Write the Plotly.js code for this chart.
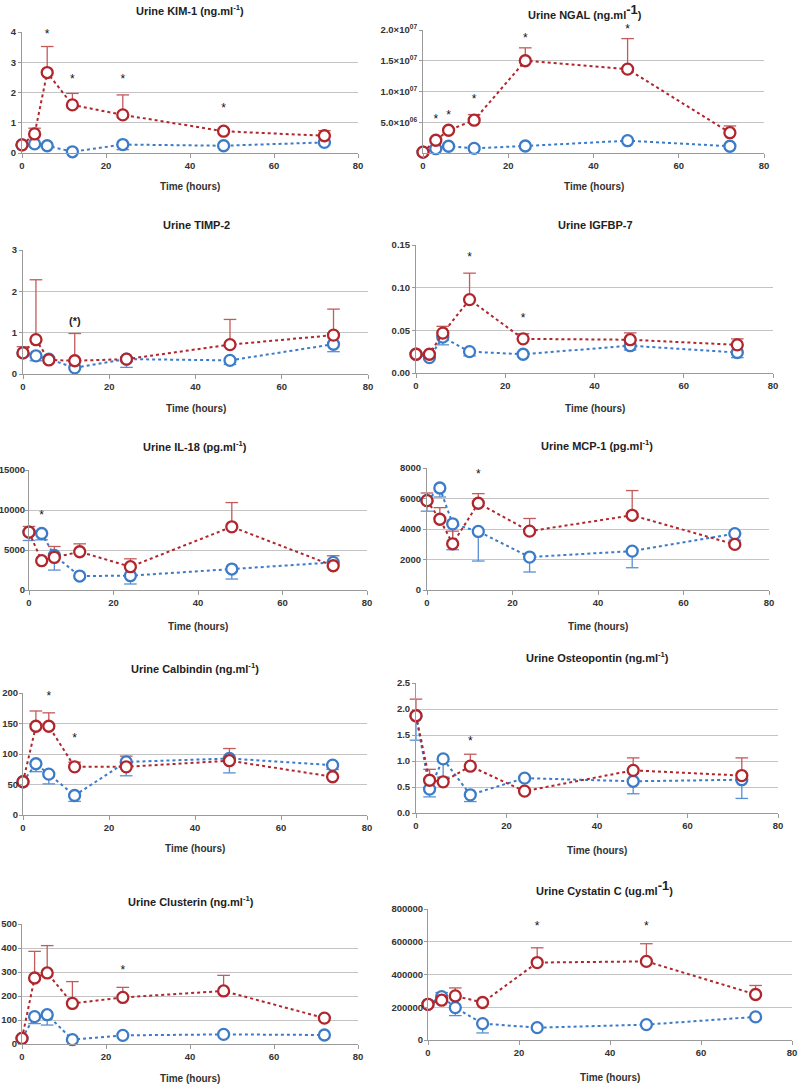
<!DOCTYPE html>
<html>
<head>
<meta charset="utf-8">
<script src="https://cdn.plot.ly/plotly-3.0.1.min.js"></script>
<style>
  body { margin: 0; background: #fff; }
  #chart { width: 800px; height: 1084px; }
</style>
</head>
<body>
<div id="chart"></div>
<script>
// time points (hours) shared by every panel
const hours = [0, 3, 6, 12, 24, 48, 72];

// error values: positive = bar drawn up, negative = bar drawn down, null = none
// Urine KIM-1
const kimRed = [0.27, 0.63, 2.66, 1.59, 1.26, 0.72, 0.57];
const kimRedErr = [null, 0.19, 0.86, 0.38, 0.66, null, 0.17];
const kimBlue = [0.27, 0.30, 0.24, 0.04, 0.28, 0.24, 0.35];
const kimBlueErr = [null, null, null, null, -0.17, null, null];
const kimStarT = [6, 12, 24, 48];
const kimStarY = [3.9, 2.4, 2.4, 1.44];

// Urine NGAL
const ngalRed = [0.15e6, 2.07e6, 3.7e6, 5.33e6, 15.0e6, 13.64e6, 3.3e6];
const ngalRedErr = [null, null, null, 0.92e6, 2.1e6, 4.96e6, 1.1e6];
const ngalBlue = [0.15e6, 0.7e6, 1.1e6, 0.76e6, 1.14e6, 2.0e6, 1.1e6];
const ngalBlueErr = [null, null, null, null, null, null, null];
const ngalStarT = [3, 6, 12, 24, 48];
const ngalStarY = [5.4e6, 6.0e6, 8.6e6, 18.5e6, 20.0e6];
const ngalTicks = [5e6, 1e7, 1.5e7, 2e7];
const ngalTickText = ["5.0×10<sup>06</sup>", "1.0×10<sup>07</sup>", "1.5×10<sup>07</sup>", "2.0×10<sup>07</sup>"];

// Urine TIMP-2
const timpRed = [0.51, 0.83, 0.34, 0.32, 0.36, 0.71, 0.94];
const timpRedErr = [0.15, 1.45, null, 0.66, null, 0.61, 0.63];
const timpBlue = [0.51, 0.44, 0.36, 0.15, 0.36, 0.33, 0.72];
const timpBlueErr = [null, -0.12, null, null, -0.20, -0.10, -0.18];

// Urine IGFBP-7
const igfRed = [0.022, 0.022, 0.0467, 0.086, 0.040, 0.039, 0.033];
const igfRedErr = [null, null, 0.008, 0.031, 0.006, 0.008, 0.007];
const igfBlue = [0.022, 0.018, 0.042, 0.025, 0.022, 0.032, 0.024];
const igfBlueErr = [null, null, -0.009, -0.005, null, -0.005, -0.006];
const igfStarT = [12, 24];
const igfStarY = [0.135, 0.063];

// Urine IL-18
const il18Red = [7230, 3660, 4070, 4780, 2910, 7900, 3030];
const il18RedErr = [710, null, 1370, 990, 990, 3030, 1250];
const il18Blue = [7230, 7060, 4320, 1745, 1790, 2620, 3450];
const il18BlueErr = [-1040, -790, -1830, null, -1040, -1250, null];
const il18StarT = [3];
const il18StarY = [9200];

// Urine MCP-1
const mcpRed = [5860, 4640, 3030, 5690, 3860, 4900, 2990];
const mcpRedErr = [500, 760, 830, 630, 830, 1620, null];
const mcpBlue = [5860, 6690, 4340, 3840, 2160, 2550, 3700];
const mcpBlueErr = [-690, -590, -1700, -1940, -980, -1090, -430];
const mcpStarT = [12];
const mcpStarY = [7550];

// Urine Calbindin
const calRed = [54.5, 145.5, 145.5, 79, 79, 89, 62.7];
const calRedErr = [null, 25, 22, 7.6, 17.5, 20, null];
const calBlue = [54.5, 84, 67, 32, 87, 92.6, 81.7];
const calBlueErr = [null, -13, -16, -9.7, -22.7, -23.6, -7];
const calStarT = [6, 12];
const calStarY = [193, 125];

// Urine Osteopontin
const ostRed = [1.87, 0.63, 0.60, 0.90, 0.42, 0.82, 0.72];
const ostRedErr = [0.32, 0.21, null, 0.23, null, 0.24, 0.34];
const ostBlue = [1.87, 0.46, 1.04, 0.35, 0.67, 0.61, 0.64];
const ostBlueErr = [-0.47, -0.15, -0.35, -0.13, null, -0.24, -0.36];
const ostStarT = [12];
const ostStarY = [1.37];

// Urine Clusterin
const cluRed = [23.6, 275, 296, 169, 194, 221, 108];
const cluRedErr = [null, 111, 114, 91, 42, 65, null];
const cluBlue = [23.6, 114, 122, 18, 36, 40, 37.5];
const cluBlueErr = [null, -29, -43, null, null, null, null];
const cluStarT = [24];
const cluStarY = [303];

// Urine Cystatin C
const cysRed = [218000, 243000, 269000, 229000, 473000, 480000, 278000];
const cysRedErr = [null, null, 49000, null, 90000, 108000, 55000];
const cysBlue = [218000, 265000, 198000, 100000, 75500, 94000, 141000];
const cysBlueErr = [null, 25000, -49000, -57000, null, null, null];
const cysStarT = [24, 48];
const cysStarY = [688000, 688000];

const W = 800, H = 1084;
const RED = "#b0262c", RED_ERR = "#c45a5a";
const BLUE = "#3b7bc8", BLUE_ERR = "#5a8fd2";
const FONT = "Liberation Sans, Arial, sans-serif";

const traces = [];
const layout = {
  width: W, height: H,
  margin: {l: 0, r: 0, t: 0, b: 0},
  paper_bgcolor: "#fff", plot_bgcolor: "#fff",
  showlegend: false,
  annotations: []
};

function errTrace(ax, vals, errs, color) {
  const xs = [], ys = [], cx = [], cy = [];
  for (let i = 0; i < hours.length; i++) {
    if (errs[i] === null) continue;
    xs.push(hours[i], hours[i], null);
    ys.push(vals[i], vals[i] + errs[i], null);
    cx.push(hours[i]);
    cy.push(vals[i] + errs[i]);
  }
  if (!cx.length) return;
  traces.push({x: xs, y: ys, xaxis: ax.x, yaxis: ax.y, mode: "lines",
    line: {color: color, width: 1.3}, hoverinfo: "skip", cliponaxis: false});
  traces.push({x: cx, y: cy, xaxis: ax.x, yaxis: ax.y, mode: "markers",
    marker: {symbol: "line-ew-open", size: 9, color: color, line: {color: color, width: 1.3}},
    hoverinfo: "skip", cliponaxis: false});
}

function seriesTrace(ax, vals, color) {
  traces.push({x: hours, y: vals, xaxis: ax.x, yaxis: ax.y, mode: "lines+markers",
    line: {color: color, width: 2, dash: "dot"},
    marker: {symbol: "circle", size: 11, color: "#fff", line: {color: color, width: 2.3}},
    cliponaxis: false});
}

// box = [left px, right px, top px (ymax), bottom px (0)]
function panel(n, title, box, yMax, yDtick, red, redErr, blue, blueErr, starT, starY, opts) {
  opts = opts || {};
  const ax = {x: n === 1 ? "x" : "x" + n, y: n === 1 ? "y" : "y" + n};
  const xName = n === 1 ? "xaxis" : "xaxis" + n;
  const yName = n === 1 ? "yaxis" : "yaxis" + n;
  const tickfont = {family: FONT, size: 9.5, color: "#333", weight: "bold"};

  layout[xName] = {
    domain: [box[0] / W, box[1] / W], anchor: ax.y,
    range: [0, 80], dtick: 20, tick0: 0,
    showgrid: false, zeroline: false, showline: true, linecolor: "#9a9a9a", linewidth: 1,
    ticks: "outside", ticklen: 4, tickcolor: "#9a9a9a", tickfont: tickfont
  };
  layout[yName] = {
    domain: [1 - box[3] / H, 1 - box[2] / H], anchor: ax.x,
    range: [0, yMax], dtick: yDtick, tick0: 0,
    showgrid: true, gridcolor: "#c4c4c4", gridwidth: 1, zeroline: false,
    showline: true, linecolor: "#9a9a9a", linewidth: 1,
    ticks: "outside", ticklen: 3, tickcolor: "#9a9a9a", tickfont: tickfont,
    ticklabelstandoff: opts.standoff || 0,
    tickformat: opts.tickformat || ""
  };
  if (opts.tickvals) {
    layout[yName].tickmode = "array";
    layout[yName].tickvals = opts.tickvals;
    layout[yName].ticktext = opts.ticktext;
  }

  errTrace(ax, blue, blueErr, BLUE_ERR);
  errTrace(ax, red, redErr, RED_ERR);
  seriesTrace(ax, blue, BLUE);
  seriesTrace(ax, red, RED);

  if (starT) {
    traces.push({x: starT, y: starY, xaxis: ax.x, yaxis: ax.y, mode: "text",
      text: starT.map(() => "*"), textposition: "middle center",
      textfont: {family: FONT, size: 12, color: "#111"}, cliponaxis: false, hoverinfo: "skip"});
  }

  // panel title and x axis title
  layout.annotations.push({
    xref: "paper", yref: "paper", x: opts.titleX / W, y: 1 - opts.titleY / H,
    xanchor: "center", yanchor: "middle", showarrow: false, text: title,
    font: {family: FONT, size: 11, color: "#222", weight: "bold"}
  });
  layout.annotations.push({
    xref: "paper", yref: "paper", x: (box[0] + box[1]) / 2 / W, y: 1 - opts.timeY / H,
    xanchor: "center", yanchor: "middle", showarrow: false, text: "Time (hours)",
    font: {family: FONT, size: 10, color: "#333", weight: "bold"}
  });
}

const bigSup = (s) => '<sup><span style="font-size:13px">' + s + '</span></sup>';

panel(1, "Urine KIM-1 (ng.ml<sup>-1</sup>)", [22, 358, 32, 153], 4, 1,
  kimRed, kimRedErr, kimBlue, kimBlueErr, kimStarT, kimStarY,
  {titleX: 190, titleY: 10, timeY: 186});
panel(2, "Urine NGAL (ng.ml" + bigSup("-1") + ")", [423, 764, 30, 153], 2e7, 5e6,
  ngalRed, ngalRedErr, ngalBlue, ngalBlueErr, ngalStarT, ngalStarY,
  {titleX: 585, titleY: 11, timeY: 186, tickvals: ngalTicks, ticktext: ngalTickText});
panel(3, "Urine TIMP-2", [23, 368, 250, 374], 3, 1,
  timpRed, timpRedErr, timpBlue, timpBlueErr, null, null,
  {titleX: 196, titleY: 225, timeY: 408});
panel(4, "Urine IGFBP-7", [416, 773, 245, 373], 0.15, 0.05,
  igfRed, igfRedErr, igfBlue, igfBlueErr, igfStarT, igfStarY,
  {titleX: 595, titleY: 225, timeY: 408, tickformat: ".2f"});
panel(5, "Urine IL-18 (pg.ml<sup>-1</sup>)", [29, 367, 470, 590], 15000, 5000,
  il18Red, il18RedErr, il18Blue, il18BlueErr, il18StarT, il18StarY,
  {titleX: 195, titleY: 446, timeY: 626, tickformat: "d", standoff: -2});
panel(6, "Urine MCP-1 (pg.ml<sup>-1</sup>)", [427, 769, 468, 590], 8000, 2000,
  mcpRed, mcpRedErr, mcpBlue, mcpBlueErr, mcpStarT, mcpStarY,
  {titleX: 597, titleY: 445, timeY: 626, tickformat: "d"});
panel(7, "Urine Calbindin (ng.ml<sup>-1</sup>)", [23, 367, 693, 815], 200, 50,
  calRed, calRedErr, calBlue, calBlueErr, calStarT, calStarY,
  {titleX: 195, titleY: 668, timeY: 848, standoff: -1});
panel(8, "Urine Osteopontin (ng.ml<sup>-1</sup>)", [416, 778, 683, 813], 2.5, 0.5,
  ostRed, ostRedErr, ostBlue, ostBlueErr, ostStarT, ostStarY,
  {titleX: 597, titleY: 657, timeY: 850, tickformat: ".1f"});
panel(9, "Urine Clusterin (ng.ml<sup>-1</sup>)", [22, 358, 924, 1044], 500, 100,
  cluRed, cluRedErr, cluBlue, cluBlueErr, cluStarT, cluStarY,
  {titleX: 191, titleY: 901, timeY: 1078, standoff: -1});
panel(10, "Urine Cystatin C (ug.ml" + bigSup("-1") + ")", [428, 792, 909, 1040], 800000, 200000,
  cysRed, cysRedErr, cysBlue, cysBlueErr, cysStarT, cysStarY,
  {titleX: 604, titleY: 887, timeY: 1077, tickformat: "d", standoff: -1});

// "(*)" marker on the TIMP-2 panel at 12 h
layout.annotations.push({
  xref: "x3", yref: "y3", x: 12, y: 1.28, showarrow: false, text: "(*)",
  font: {family: FONT, size: 11, color: "#222", weight: "bold"}
});

Plotly.newPlot("chart", traces, layout, {staticPlot: true});
</script>
</body>
</html>
